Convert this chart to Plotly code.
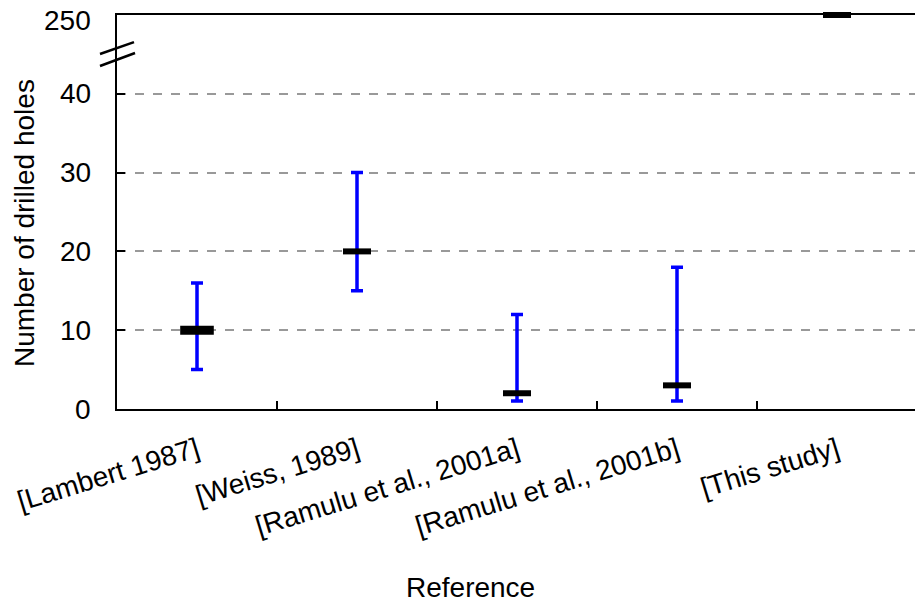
import plotly.graph_objects as go

# ---- data ----
categories = ["[Lambert 1987]", "[Weiss, 1989]", "[Ramulu et al., 2001a]",
              "[Ramulu et al., 2001b]", "[This study]"]
median = [10, 20, 2, 3, 250]
low = [5, 15, 1, 1, None]
high = [16, 30, 12, 18, None]
ytick_vals = [0, 10, 20, 30, 40, 250]

# broken axis: values up to 40 plotted as is, 250 drawn at axis position 50
def to_axis(v):
    if v is None:
        return None
    return v if v <= 40 else 50 + (v - 250) * 0.1

FONT = "Arial, Liberation Sans, sans-serif"

err_cats = [c for c, l in zip(categories, low) if l is not None]
err_med = [to_axis(m) for m, l in zip(median, low) if l is not None]
err_plus = [h - m for m, h, l in zip(median, high, low) if l is not None]
err_minus = [m - l for m, l in zip(median, low) if l is not None]

fig = go.Figure()
fig.add_trace(go.Scatter(
    x=err_cats, y=err_med, mode="markers",
    marker=dict(size=1, color="rgba(0,0,0,0)"),
    error_y=dict(type="data", symmetric=False, array=err_plus, arrayminus=err_minus,
                 color="#0000ff", thickness=3.5, width=6),
    showlegend=False, hoverinfo="skip"))

# median markers (first one drawn heavier, as in the original)
big = [0]
fig.add_trace(go.Scatter(
    x=[categories[i] for i in big], y=[to_axis(median[i]) for i in big], mode="markers",
    marker=dict(symbol="line-ew", size=24, color="black", opacity=1,
                line=dict(color="black", width=9)),
    showlegend=False, cliponaxis=False))
rest = [i for i in range(len(categories)) if i not in big]
fig.add_trace(go.Scatter(
    x=[categories[i] for i in rest], y=[to_axis(median[i]) for i in rest], mode="markers",
    marker=dict(symbol="line-ew", size=20, color="black", opacity=1,
                line=dict(color="black", width=6)),
    showlegend=False, cliponaxis=False))

ytv = [to_axis(v) for v in ytick_vals]

# y tick labels as text placed on the y scale (offset further from the axis)
ylabel_annots = [
    dict(text=str(v), xref="paper", yref="y", x=0, y=to_axis(v),
         xanchor="right", yanchor="middle", xshift=-24,
         yshift=(-5 if v > 40 else 0), showarrow=False, font=dict(size=28))
    for v in ytick_vals
]

fig.update_layout(
    width=915, height=608,
    margin=dict(l=117, r=0, t=15, b=199),
    paper_bgcolor="white", plot_bgcolor="white",
    font=dict(family=FONT, size=28, color="black"),
    xaxis=dict(type="category", range=[-0.5, 4.4875], tickson="boundaries",
               ticks="inside", ticklen=8, tickwidth=1.5, tickcolor="black",
               showline=True, linecolor="black", linewidth=2, mirror=True,
               showgrid=False, tickangle=-17, tickfont=dict(size=28),
               ticklabelstandoff=12),
    yaxis=dict(range=[0, 50], tickvals=ytv[:-1], showticklabels=False,
               ticks="inside", ticklen=8, tickwidth=1.5, tickcolor="black",
               showline=True, linecolor="black", linewidth=2,
               showgrid=True, gridcolor="#999999", griddash="dash", gridwidth=1.5,
               zeroline=False),
    annotations=ylabel_annots + [
        dict(text="Reference", xref="paper", yref="paper", x=0.4436, y=-0.454,
             xanchor="center", yanchor="middle", showarrow=False, font=dict(size=28)),
        dict(text="Number of drilled holes", xref="paper", yref="paper", x=0, y=0.472,
             xshift=-93, xanchor="center", yanchor="middle", textangle=-90,
             showarrow=False, font=dict(size=28)),
    ],
    shapes=[
        dict(type="line", xref="paper", yref="paper", x0=-0.0213, y0=0.901, x1=0.0213, y1=0.931,
             line=dict(color="black", width=2.5)),
        dict(type="line", xref="paper", yref="paper", x0=-0.0213, y0=0.8706, x1=0.0226, y1=0.9036,
             line=dict(color="black", width=2.5)),
    ],
)

fig.write_html("out.html")
